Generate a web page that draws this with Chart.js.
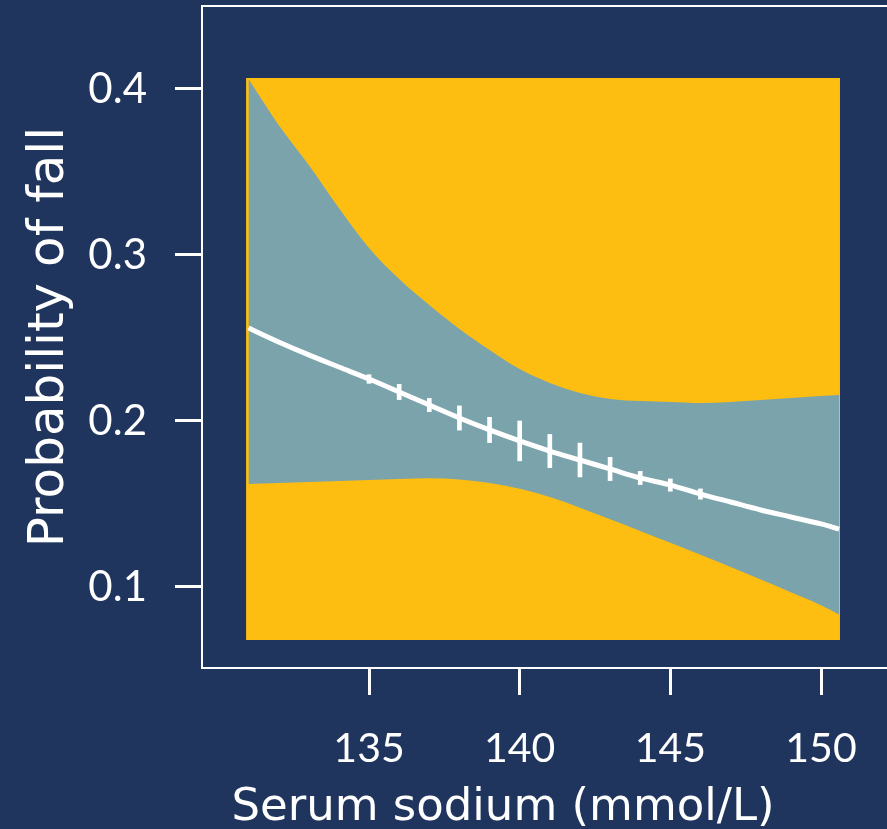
<!DOCTYPE html>
<html>
<head>
<meta charset="utf-8">
<title>Probability of fall by serum sodium</title>
<script src="https://cdn.jsdelivr.net/npm/chart.js@4.4.1/dist/chart.umd.min.js"></script>
<style>
  html, body { margin: 0; padding: 0; background: #1f355e; overflow: hidden; }
  canvas { display: block; }
</style>
</head>
<body>
<canvas id="fallChart" width="887" height="829"></canvas>
<script>
const sodium = [131, 132, 133, 134, 135, 136, 137, 138, 139, 140, 141, 142, 143, 144, 145, 146, 147, 148, 149, 150, 150.6];
const fitProb = [0.256, 0.2476, 0.2398, 0.2325, 0.2253, 0.2175, 0.2096, 0.2018, 0.1946, 0.188, 0.1819, 0.1765, 0.1711, 0.1657, 0.1614, 0.156, 0.1512, 0.1464, 0.1422, 0.138, 0.1349];
const upperCI = [0.406, 0.3783, 0.3542, 0.3283, 0.3042, 0.2855, 0.2699, 0.2554, 0.2428, 0.2313, 0.2229, 0.2169, 0.2133, 0.212, 0.2114, 0.2108, 0.2114, 0.2126, 0.2139, 0.2151, 0.2157];
const lowerCI = [0.162, 0.1627, 0.1633, 0.1639, 0.1645, 0.1651, 0.1655, 0.1648, 0.1627, 0.1592, 0.1542, 0.1478, 0.1408, 0.1338, 0.1266, 0.1194, 0.112, 0.1045, 0.0968, 0.089, 0.0834];

// short white marks across the curve at whole sodium values
const markSodium = [135, 136, 137, 138, 139, 140, 141, 142, 143, 144, 145, 146];
const markHalf = [0.0026, 0.0046, 0.004, 0.0073, 0.0076, 0.012, 0.01, 0.0102, 0.007, 0.004, 0.0037, 0.0031];

const xTicks = [135, 140, 145, 150];
const yTicks = [0.1, 0.2, 0.3, 0.4];

// extent of the yellow panel
const panelX = [130.92, 150.63];
const panelY = [0.068, 0.4066];

const YELLOW = "#fdbe11";
const BAND = "#7aa3ac";
const WHITE = "#ffffff";

const titleFont = '"DejaVu Sans", sans-serif';
const tickFont = 'Lato, "Open Sans", sans-serif';

// line along the top of the frame, and the x title
const framePlugin = {
    id: "frameAndTitle",
    afterDraw(chart) {
        const { ctx, chartArea } = chart;
        ctx.save();
        ctx.strokeStyle = WHITE;
        ctx.lineWidth = 2;
        ctx.beginPath();
        ctx.moveTo(chartArea.left - 1, chartArea.top);
        ctx.lineTo(chartArea.right, chartArea.top);
        ctx.stroke();

        ctx.font = "45px " + titleFont;
        ctx.fillStyle = WHITE;
        ctx.textAlign = "center";
        ctx.textBaseline = "alphabetic";
        ctx.fillText("Serum sodium (mmol/L)", chartArea.left + 301, chartArea.bottom + 152);
        ctx.restore();
    }
};

Chart.defaults.color = WHITE;

const toPoints = (ys) => sodium.map((x, i) => ({ x: x, y: ys[i] }));

// no extra room for half-labels at the ends of the axes
const noEdgePadding = (scale) => {
    scale.paddingTop = 0;
    scale.paddingBottom = 0;
    scale.paddingLeft = 0;
    scale.paddingRight = 0;
};

new Chart(document.getElementById("fallChart"), {
    type: "line",
    data: {
        datasets: [
            {
                type: "bar",
                data: markSodium.map((x, i) => {
                    const c = fitProb[sodium.indexOf(x)];
                    return { x: x, y: [c - markHalf[i], c + markHalf[i]] };
                }),
                backgroundColor: WHITE,
                borderWidth: 0,
                barThickness: 4,
                order: 0
            },
            {
                data: toPoints(fitProb),
                borderColor: WHITE,
                borderWidth: 5,
                pointRadius: 0,
                cubicInterpolationMode: "monotone",
                fill: false,
                order: 1
            },
            {
                data: toPoints(upperCI),
                borderColor: "transparent",
                borderWidth: 0,
                backgroundColor: BAND,
                pointRadius: 0,
                cubicInterpolationMode: "monotone",
                fill: "+1",
                order: 2
            },
            {
                data: toPoints(lowerCI),
                borderColor: "transparent",
                borderWidth: 0,
                pointRadius: 0,
                cubicInterpolationMode: "monotone",
                fill: false,
                order: 3
            },
            {
                data: panelX.map(x => ({ x: x, y: panelY[1] })),
                borderColor: "transparent",
                borderWidth: 0,
                backgroundColor: YELLOW,
                pointRadius: 0,
                tension: 0,
                fill: { value: panelY[0] },
                order: 4
            }
        ]
    },
    options: {
        responsive: false,
        animation: false,
        layout: { autoPadding: false, padding: { top: 6, right: 0, bottom: 0, left: 0 } },
        plugins: {
            legend: { display: false },
            tooltip: { enabled: false }
        },
        scales: {
            x: {
                type: "linear",
                min: 129.457,
                max: 152.19,
                offset: false,
                afterBuildTicks: (scale) => { scale.ticks = xTicks.map(v => ({ value: v })); },
                afterFit: (scale) => { scale.height = 161; noEdgePadding(scale); },
                grid: {
                    display: true,
                    offset: false,
                    drawOnChartArea: false,
                    drawTicks: true,
                    tickLength: 27,
                    tickWidth: 3,
                    tickColor: WHITE
                },
                border: { display: true, color: WHITE, width: 2 },
                ticks: {
                    color: WHITE,
                    padding: 29,
                    maxRotation: 0,
                    autoSkip: false,
                    font: { family: tickFont, size: 41 }
                }
            },
            y: {
                type: "linear",
                min: 0.0512,
                max: 0.45,
                afterBuildTicks: (scale) => { scale.ticks = yTicks.map(v => ({ value: v })); },
                afterFit: (scale) => { scale.width = 202; noEdgePadding(scale); },
                grid: {
                    display: true,
                    offset: false,
                    drawOnChartArea: false,
                    drawTicks: true,
                    tickLength: 27,
                    tickWidth: 3,
                    tickColor: WHITE
                },
                border: { display: true, color: WHITE, width: 2 },
                ticks: {
                    color: WHITE,
                    padding: 28,
                    autoSkip: false,
                    font: { family: tickFont, size: 42 },
                    callback: (v) => v.toFixed(1)
                },
                title: {
                    display: true,
                    text: "Probability of fall",
                    color: WHITE,
                    padding: { top: 20, bottom: 0 },
                    font: { family: titleFont, size: 50 }
                }
            }
        }
    },
    plugins: [framePlugin]
});
</script>
</body>
</html>
